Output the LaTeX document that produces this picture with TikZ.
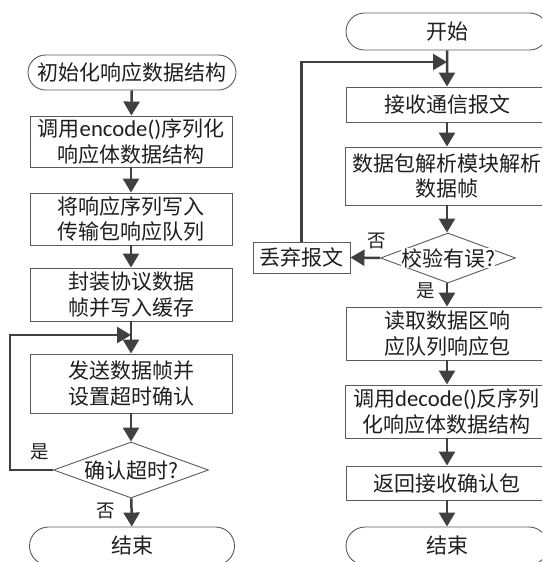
\documentclass[tikz,border=0pt]{standalone}
\usepackage{fontspec}
\setmainfont{Noto Sans CJK SC}
\newfontfamily\latf[Scale=1.08]{Carlito}
\usetikzlibrary{shapes.geometric,shapes.misc,arrows.meta}
\definecolor{boxc}{HTML}{5A5A5A}
\definecolor{arrc}{HTML}{404040}
\definecolor{txt}{HTML}{1E1E1E}
\begin{document}
\begin{tikzpicture}[x=1pt,y=-1pt,
 box/.style={draw=boxc, line width=0.9pt, minimum width=202pt, inner sep=0pt, align=center, font=\fontsize{21}{25.5}\selectfont, text=txt},
 term/.style={box, rounded rectangle},
 dia/.style={diamond, draw=boxc, line width=0.9pt, inner sep=0pt},
 diat/.style={fill=white, inner sep=0.5pt, font=\fontsize{21}{25.5}\selectfont, text=txt},
 arr/.style={draw=arrc, line width=2.5pt, -{Triangle[length=14pt,width=16pt]}},
 lab/.style={font=\fontsize{18.5}{20}\selectfont, text=txt}
]
\path[use as bounding box] (0,0) rectangle (542,562);
\clip (0,0) rectangle (542,562);
% left column
\node[term, minimum width=208pt, minimum height=35pt] (t1) at (132,72.5) {初始化响应数据结构};
\node[box, minimum height=51pt] (b1) at (131,141.5) {调用{\latf encode()}序列化\\响应体数据结构};
\node[box, minimum height=52pt] (b2) at (131,219) {将响应序列写入\\传输包响应队列};
\node[box, minimum height=53pt] (b3) at (131,294.5) {封装协议数据\\帧并写入缓存};
\node[box, minimum height=59pt] (b4) at (131,383.5) {发送数据帧并\\设置超时确认};
\node[dia, minimum width=155pt, minimum height=56pt] (d1) at (131,470) {};
\node[diat] (d1t) at (d1) {确认超时?};
\node[term, minimum width=205pt, minimum height=38pt] (t4) at (132,546) {结束};
\coordinate (j1) at (131,335);
\coordinate (c1) at (10,335);
\draw[arr] (t1) -- (b1);
\draw[arr] (b1) -- (b2);
\draw[arr] (b2) -- (b3);
\draw[arr] (b3) -- (b4);
\draw[arr] (b4) -- (d1);
\draw[arr] (d1) -- (t4);
\draw[arr] (d1.west) -| (c1) -- (j1);
\node[lab] (l1) at (40,452) {是};
\node[lab] (l2) at (106,511) {否};
% right column
\node[term, minimum width=202pt, minimum height=37pt] (t2) at (447,31.5) {开始};
\node[box, minimum height=35pt] (r1) at (447,104.5) {接收通信报文};
\node[box, minimum height=58pt] (r2) at (446.5,176) {数据包解析模块解析\\数据帧};
\node[dia, minimum width=135pt, minimum height=50pt] (d2) at (448,258) {};
\node[diat] (d2t) at (d2) {校验有误?};
\node[box, minimum width=97pt, minimum height=31pt] (r7) at (301.5,257.5) {丢弃报文};
\node[box, minimum height=53pt] (r4) at (447,333.5) {读取数据区响\\应队列响应包};
\node[box, minimum height=53pt] (r5) at (446.5,411.5) {调用{\latf decode()}反序列\\化响应体数据结构};
\node[box, minimum height=34pt] (r6) at (447,483) {返回接收确认包};
\node[term, minimum width=202pt, minimum height=38pt] (t3) at (447,546) {结束};
\coordinate (j2) at (447,62);
\draw[arr] (t2) -- (r1);
\draw[arr] (r1) -- (r2.north -| r1);
\draw[arr] (r2.south -| r1) -- (d2.north -| r1);
\draw[arr] (d2.south -| r4) -- (r4);
\draw[arr] (r4.south) -- (r5.north -| r4);
\draw[arr] (r5.south -| r6) -- (r6);
\draw[arr] (r6) -- (t3);
\draw[arr] (d2.west) -- (r7.east);
\draw[arr] (r7.north) |- (j2);
\node[lab] (l3) at (377,241) {否};
\node[lab] (l4) at (426,291) {是};
\end{tikzpicture}
\end{document}
